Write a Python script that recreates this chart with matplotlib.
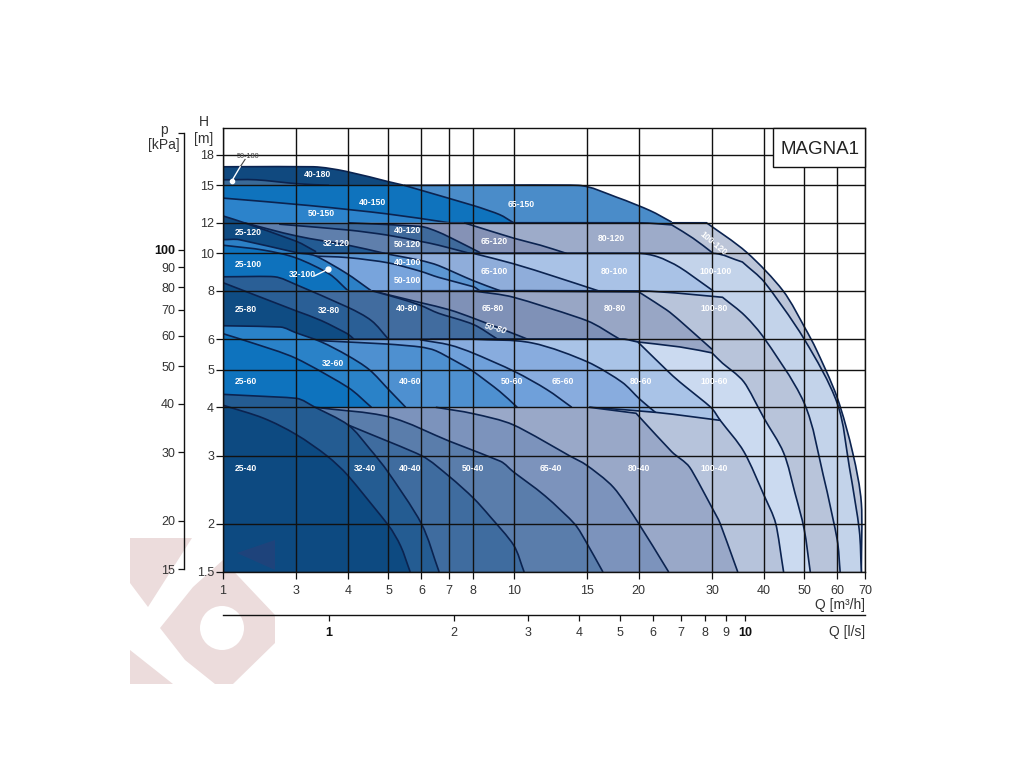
import numpy as np
import matplotlib
matplotlib.use("Agg")
import matplotlib.pyplot as plt
from matplotlib.patches import Polygon, Circle, Rectangle, PathPatch
from matplotlib.path import Path

plt.rcParams['font.family'] = ['Liberation Sans', 'DejaVu Sans']

# envelope curves, Q in m3/h and H in m
q_100_120 = [24, 29.1, 36.4, 44.4, 50.1, 53.5, 60, 65.4, 68.6, 68.6]
h_100_120 = [12.0, 12.0, 10.05, 8.02, 6.44, 5.63, 4.24, 3.05, 2.26, 1.5]
q_40_180 = [2, 3.3, 3.95, 4.97, 5.45]
h_40_180 = [16.75, 16.75, 16.3, 15.35, 15.0]
q_50_180 = [2, 2.4, 3, 3.6]
h_50_180 = [15.5, 15.5, 15.15, 15.0]
q_65_150 = [5.45, 14.3, 17.7, 21.3, 24]
h_65_150 = [15.0, 15.0, 13.97, 12.9, 12.05]
q_40_150 = [5.45, 8, 9.25, 10]
h_40_150 = [15.0, 13.3, 12.6, 12.0]
q_50_150 = [2, 3.22, 4.97, 7]
h_50_150 = [13.9, 13.3, 12.65, 12.0]

q_80_120 = [7, 20.1, 24, 27, 30.2]
h_80_120 = [12.0, 12.0, 11.85, 10.95, 10.0]
q_65_120 = [7.6, 10, 11.6, 13.4]
h_65_120 = [12.0, 10.95, 10.5, 10.0]
q_40_120 = [4.0, 5.95, 6.6, 7.4, 8.3]
h_40_120 = [12.0, 11.75, 11.35, 10.7, 10.05]
q_50_120 = [2.73, 3.98, 4.97, 5.95, 6.6, 7.85]
h_50_120 = [11.9, 11.5, 11.15, 10.75, 10.5, 10.0]
q_32_120 = [2.25, 3, 4, 4.9]
h_32_120 = [12.0, 11.1, 10.5, 10.0]
q_25_120 = [2, 2.25, 3, 3.35]
h_25_120 = [12.5, 12.0, 10.75, 10.1]

q_100_100 = [3, 30.2, 35.5, 40.2, 50, 60, 64.2, 67.8, 68.6]
h_100_100 = [10.0, 10.0, 9.5, 8.4, 6.0, 4.1, 2.8, 1.93, 1.5]
q_80_100 = [3, 19.9, 22.2, 25.1, 30.2]
h_80_100 = [10.0, 10.0, 9.8, 9.2, 8.0]
q_65_100 = [8, 10, 12.6, 16]
h_65_100 = [10.0, 9.4, 8.7, 8.0]
q_40_100 = [5, 5.95, 6.6, 8, 9.3]
h_40_100 = [9.95, 9.6, 9.3, 8.5, 8.0]
q_50_100 = [3.23, 4, 5, 5.95, 6.6, 8, 8.3]
h_50_100 = [9.85, 9.75, 9.45, 9.0, 8.67, 8.2, 8.0]
q_32_100 = [2, 2.19, 3, 3.34, 3.95, 4.55]
h_32_100 = [10.85, 10.85, 10.05, 9.85, 8.9, 8.0]
q_25_100 = [2, 2.5, 3, 3.6, 4]
h_25_100 = [10.5, 10.2, 9.73, 8.85, 8.0]

q_100_80 = [4, 20, 31.8, 36, 40.2, 50, 55.5, 60, 61]
h_100_80 = [8.0, 8.0, 7.7, 6.9, 6.0, 4.1, 2.68, 1.82, 1.5]
q_80_80 = [8.3, 20, 23.3, 25.1, 30]
h_80_80 = [8.0, 7.95, 7.15, 6.7, 5.65]
q_65_80 = [8, 10, 15, 18]
h_65_80 = [8.0, 7.7, 6.7, 6.0]
q_50_80 = [4.57, 6, 7, 8, 10.2, 10.8]
h_50_80 = [8.0, 7.45, 7.15, 6.8, 6.15, 6.0]
q_40_80 = [4.57, 5.3, 5.95, 6.6, 8, 9.15]
h_40_80 = [8.0, 7.65, 7.35, 7.0, 6.55, 6.0]
q_32_80 = [2, 2.66, 3, 4, 4.55, 5]
h_32_80 = [8.7, 8.7, 8.3, 7.25, 6.7, 6.0]
q_25_80 = [2, 3, 3.45, 3.98, 4.13]
h_25_80 = [8.4, 7.1, 6.7, 6.2, 6.0]

q_100_60 = [4, 18.3, 19.9, 25.1, 30, 31.8, 35.8, 40, 44.6, 47.5, 50, 51.7]
h_100_60 = [6.0, 6.0, 5.9, 5.73, 5.53, 5.2, 4.65, 3.75, 3.05, 2.4, 1.93, 1.5]
q_80_60 = [6.3, 18.3, 19.9, 23.3, 25.1, 29.8, 31.4]
h_80_60 = [6.0, 6.0, 5.9, 5.0, 4.65, 4.0, 3.7]
q_65_60 = [8, 11.05, 15, 18.2, 20.1, 22]
h_65_60 = [6.0, 5.87, 5.25, 4.65, 4.2, 3.87]
q_50_60 = [5.95, 7, 8, 10.05, 12, 13.8]
h_50_60 = [5.98, 5.8, 5.52, 4.95, 4.45, 4.0]
q_40_60 = [3.4, 4.95, 5.95, 6.5, 7.4, 8, 9.25, 10.2]
h_40_60 = [5.95, 5.83, 5.73, 5.6, 5.2, 4.95, 4.4, 4.0]
q_32_60 = [2, 2.75, 3, 3.45, 3.98, 4.5, 5, 5.5]
h_32_60 = [6.5, 6.45, 6.23, 5.9, 5.45, 5.0, 4.45, 4.0]
q_25_60 = [2, 2.35, 3, 4, 4.55]
h_25_60 = [6.2, 5.87, 5.35, 4.5, 4.0]

q_100_40 = [15.2, 22, 31.4, 35.8, 40, 42.7, 44.6]
h_100_40 = [4.0, 3.88, 3.7, 3.07, 2.37, 2.0, 1.5]
q_80_40 = [15.2, 19.7, 24, 26.5, 30, 31.4, 34.6]
h_80_40 = [4.0, 3.86, 3.07, 2.8, 2.2, 2.0, 1.5]
q_65_40 = [6.5, 8, 10, 13.6, 15, 17.4, 20, 23.6]
h_65_40 = [4.0, 3.85, 3.6, 3.0, 2.83, 2.48, 2.0, 1.5]
q_50_40 = [3.33, 5, 7, 9.3, 10, 11.9, 14, 15, 16.4]
h_50_40 = [4.0, 3.78, 3.27, 2.9, 2.72, 2.36, 2.0, 1.78, 1.5]
q_40_40 = [4, 6, 7, 8, 8.8, 10, 10.6]
h_40_40 = [3.6, 3.0, 2.65, 2.33, 2.08, 1.76, 1.5]
q_32_40 = [2, 3, 3.33, 4, 4.5, 5, 6, 6.62]
h_32_40 = [4.32, 4.22, 4.0, 3.6, 3.13, 2.71, 2.0, 1.5]
q_25_40 = [2, 2.5, 3, 3.55, 4, 5, 5.35, 5.64]
h_25_40 = [4.05, 3.75, 3.4, 3.0, 2.66, 1.98, 1.75, 1.5]

# painted back to front, each one is filled down to the bottom of the chart
layers = [
    (q_100_120, h_100_120, '#bcc5d8'), (q_40_180, h_40_180, '#10497f'), (q_50_180, h_50_180, '#3a6a98'),
    (q_65_150, h_65_150, '#4a8cc9'), (q_40_150, h_40_150, '#0f73bd'), (q_50_150, h_50_150, '#2c83cb'),
    (q_80_120, h_80_120, '#9dabc9'), (q_65_120, h_65_120, '#8592b6'), (q_40_120, h_40_120, '#3f6a9c'),
    (q_50_120, h_50_120, '#5f7fac'), (q_32_120, h_32_120, '#235b93'), (q_25_120, h_25_120, '#0f4b82'),
    (q_100_100, h_100_100, '#c3d3ea'), (q_80_100, h_80_100, '#a9c2e6'), (q_65_100, h_65_100, '#8fadda'),
    (q_40_100, h_40_100, '#5c96d2'), (q_50_100, h_50_100, '#78a4dc'), (q_32_100, h_32_100, '#2c80c6'),
    (q_25_100, h_25_100, '#0e72bd'),
    (q_100_80, h_100_80, '#b8c4da'), (q_80_80, h_80_80, '#98a6c5'), (q_65_80, h_65_80, '#7f91b7'),
    (q_50_80, h_50_80, '#5b7ca9'), (q_40_80, h_40_80, '#416c9f'), (q_32_80, h_32_80, '#2a5f96'),
    (q_25_80, h_25_80, '#0f4c83'),
    (q_100_60, h_100_60, '#cbdaf0'), (q_80_60, h_80_60, '#a9c3e7'), (q_65_60, h_65_60, '#88acde'),
    (q_50_60, h_50_60, '#6fa0da'), (q_40_60, h_40_60, '#4e90d0'), (q_32_60, h_32_60, '#2a82c8'),
    (q_25_60, h_25_60, '#0e73be'),
    (q_100_40, h_100_40, '#b6c3db'), (q_80_40, h_80_40, '#99a8c8'), (q_65_40, h_65_40, '#7c93bc'),
    (q_50_40, h_50_40, '#5a7dab'), (q_40_40, h_40_40, '#3f6c9f'), (q_32_40, h_32_40, '#245c92'),
    (q_25_40, h_25_40, '#0d4a81'),
]

label_names = ['40-180', '40-150', '50-150', '65-150', '25-120', '32-120', '40-120', '50-120', '65-120', '80-120',
               '25-100', '32-100', '40-100', '50-100', '65-100', '80-100', '100-100',
               '25-80', '32-80', '40-80', '65-80', '80-80', '100-80',
               '25-60', '32-60', '40-60', '50-60', '65-60', '80-60', '100-60',
               '25-40', '32-40', '40-40', '50-40', '65-40', '80-40', '100-40']
label_q = [3.38, 4.57, 3.44, 10.45, 2.3, 3.74, 5.55, 5.55, 9, 17.2,
           2.3, 3.1, 5.55, 5.55, 9, 17.5, 30.6,
           2.27, 3.6, 5.55, 8.9, 17.5, 30.4,
           2.27, 3.67, 5.65, 9.9, 13.1, 20.2, 30.4,
           2.27, 4.4, 5.65, 8, 12.3, 20, 30.4]
label_h = [16.0, 13.55, 12.7, 13.35, 11.3, 10.6, 11.45, 10.55, 10.75, 10.9,
           9.35, 8.8, 9.5, 8.5, 9, 9, 9,
           7.17, 7.1, 7.2, 7.2, 7.2, 7.2,
           4.65, 5.2, 4.65, 4.65, 4.65, 4.65, 4.65,
           2.78, 2.78, 2.78, 2.78, 2.78, 2.78, 2.78]

q_ticks = [2, 3, 4, 5, 6, 7, 8, 10, 15, 20, 30, 40, 50, 60, 70]
q_tick_labels = ['1', '3', '4', '5', '6', '7', '8', '10', '15', '20', '30', '40', '50', '60', '70']
h_ticks = [1.5, 2, 3, 4, 5, 6, 8, 10, 12, 15, 18]
h_tick_labels = ['1.5', '2', '3', '4', '5', '6', '8', '10', '12', '15', '18']
p_ticks = [15, 20, 30, 40, 50, 60, 70, 80, 90, 100, 200]
p_tick_labels = ['15', '20', '30', '40', '50', '60', '70', '80', '90', '100', '']
ls_ticks = [1, 2, 3, 4, 5, 6, 7, 8, 9, 10]

W, H = 1024, 768
line_col = '#0b2350'
ink = '#111111'
text_col = '#333333'


def curve_path(q, h):
    # bezier segments through the read points in log space, sharp bends stay corners
    pts = np.log10(np.column_stack([q, h]))
    segs = pts[1:] - pts[:-1]
    lens = np.linalg.norm(segs, axis=1)
    dirs = segs / lens[:, None]
    out_t = np.vstack([dirs, dirs[-1:]])
    in_t = np.vstack([dirs[:1], dirs])
    for i in range(1, len(pts) - 1):
        if dirs[i - 1] @ dirs[i] > 0.9:
            t = pts[i + 1] - pts[i - 1]
            t = t / np.linalg.norm(t)
            out_t[i] = t
            in_t[i] = t
    verts = [pts[0]]
    for i in range(len(lens)):
        d0 = min(lens[i], lens[max(i - 1, 0)]) / 3
        d1 = min(lens[i], lens[min(i + 1, len(lens) - 1)]) / 3
        verts += [pts[i] + out_t[i] * d0, pts[i + 1] - in_t[i + 1] * d1, pts[i + 1]]
    return 10 ** np.array(verts)


fig = plt.figure(figsize=(W / 100, H / 100), dpi=100, facecolor='white')

# pale logo behind the chart
bg = fig.add_axes([0, 0, 1, 1], zorder=-1)
bg.set_xlim(0, W)
bg.set_ylim(H, 0)
bg.axis('off')
pink = '#ecdcdc'
bg.add_patch(Polygon([(130, 538), (192, 538), (148, 607), (130, 583)], color=pink, lw=0))
bg.add_patch(Polygon([(223, 560), (275, 615), (275, 643), (233, 684), (215, 684), (185, 660), (160, 628), (193, 587)], color=pink, lw=0))
bg.add_patch(Polygon([(130, 650), (173, 684), (130, 684)], color=pink, lw=0))
bg.add_patch(Circle((222, 628), 22, color='white', lw=0))

ax = fig.add_axes([223 / W, 1 - 572 / H, 642 / W, 444 / H], facecolor='none')
ax.set_xscale('log')
ax.set_yscale('log')

for i, (q, h, col) in enumerate(layers):
    z = 1 + i * 0.02
    v = curve_path(q, h)
    codes = [Path.MOVETO] + [Path.CURVE4] * (len(v) - 1)
    closing = [(q[-1], 1.5), (2, 1.5), (2, h[0]), (q[0], h[0])]
    ax.add_patch(PathPatch(Path(np.vstack([v, closing]), codes + [Path.LINETO] * 4), facecolor=col, lw=0, zorder=z))
    ax.add_patch(PathPatch(Path(v, codes), fill=False, edgecolor=line_col, lw=1.2, zorder=z + 0.01))

ax.set_xlim(2, 70)
ax.set_ylim(1.5, 21.1)
ax.xaxis.set_minor_locator(plt.NullLocator())
ax.yaxis.set_minor_locator(plt.NullLocator())
ax.xaxis.set_minor_formatter(plt.NullFormatter())
ax.yaxis.set_minor_formatter(plt.NullFormatter())
ax.set_xticks(q_ticks, q_tick_labels)
ax.set_yticks(h_ticks, h_tick_labels)
ax.set_axisbelow(False)
ax.grid(True, which='major', color=ink, lw=1)
ax.tick_params(axis='both', which='major', length=5, width=0.9, color=ink, labelsize=9, labelcolor=text_col)
ax.tick_params(axis='x', pad=4)
ax.tick_params(axis='y', pad=1.5)
for s in ax.spines.values():
    s.set_color(ink)
    s.set_linewidth(1)
    s.set_zorder(3)

for name, q, h in zip(label_names, label_q, label_h):
    ax.text(q, h, name, color='white', fontsize=6.2, fontweight='bold', ha='center', va='center', zorder=5)
ax.text(30.2, 10.6, '100-120', color='white', fontsize=6.2, fontweight='bold', ha='center', va='center',
        rotation=-40, zorder=5)
ax.text(9.05, 6.4, '50-80', color='white', fontsize=6.5, style='italic', fontweight='bold', ha='center', va='center',
        rotation=-15, zorder=5)

# pointers for the two narrow pumps
ax.text(2.3, 17.8, '50-180', color='#444444', fontsize=5.2, ha='center', va='center', zorder=5)
ax.plot([2.26, 2.2], [17.5, 16.75], color='#444444', lw=0.8, zorder=5)
ax.plot([2.2, 2.1], [16.75, 15.4], color='white', lw=1, zorder=5)
ax.plot([2.1], [15.4], 'o', color='white', ms=3, zorder=5)
ax.plot([3.32, 3.58], [8.75, 9.1], color='white', lw=1, zorder=5)
ax.plot([3.58], [9.1], 'o', color='white', ms=3.5, zorder=5)

ax.add_patch(Rectangle(((773 - 223) / 642, (572 - 167) / 444), (865 - 773) / 642, 39 / 444, transform=ax.transAxes,
                       facecolor='white', edgecolor=ink, lw=1, zorder=6, clip_on=False))
ax.text((820 - 223) / 642, (572 - 149) / 444, 'MAGNA1', transform=ax.transAxes, fontsize=13.5, color='#222222',
        ha='center', va='center', zorder=7)

# pressure axis on the far left
pax = fig.add_axes([184 / W, 1 - 569 / H, 0.0001, 436 / H], facecolor='none')
pax.set_yscale('log')
pax.set_ylim(15, 200)
pax.set_xticks([])
pax.yaxis.set_minor_locator(plt.NullLocator())
pax.yaxis.set_minor_formatter(plt.NullFormatter())
pax.set_yticks(p_ticks, p_tick_labels)
pax.tick_params(axis='y', length=4.5, width=0.9, color=ink, labelsize=9, labelcolor=text_col, pad=2)
for lab in pax.get_yticklabels():
    if lab.get_text() == '100':
        lab.set_fontweight('bold')
        lab.set_color('#111111')
for k in ['top', 'right', 'bottom']:
    pax.spines[k].set_visible(False)
pax.spines['left'].set_color(ink)
pax.spines['left'].set_linewidth(1)

# flow axis in l/s under the chart
lax = fig.add_axes([223 / W, 1 - 615 / H, 642 / W, 0.0001], facecolor='none')
lax.set_xscale('log')
lax.set_xlim(2 / 3.6, 70 / 3.6)
lax.set_yticks([])
lax.xaxis.set_minor_locator(plt.NullLocator())
lax.xaxis.set_minor_formatter(plt.NullFormatter())
lax.set_xticks(ls_ticks, [str(v) for v in ls_ticks])
lax.tick_params(axis='x', length=4.5, width=0.9, color=ink, labelsize=9, labelcolor=text_col, pad=4)
for lab in lax.get_xticklabels():
    if lab.get_text() in ('1', '10'):
        lab.set_fontweight('bold')
        lab.set_color('#111111')
for k in ['top', 'right', 'left']:
    lax.spines[k].set_visible(False)
lax.spines['bottom'].set_color(ink)
lax.spines['bottom'].set_linewidth(1)

fig.text(204 / W, 1 - 122 / H, 'H', fontsize=10, color=text_col, ha='center', va='center')
fig.text(204 / W, 1 - 139 / H, '[m]', fontsize=10, color=text_col, ha='center', va='center')
fig.text(164 / W, 1 - 130 / H, 'p', fontsize=10, color=text_col, ha='center', va='center')
fig.text(164 / W, 1 - 145 / H, '[kPa]', fontsize=10, color=text_col, ha='center', va='center')
fig.text(865 / W, 1 - 605 / H, 'Q [m³/h]', fontsize=10, color=text_col, ha='right', va='center')
fig.text(865 / W, 1 - 632 / H, 'Q [l/s]', fontsize=10, color=text_col, ha='right', va='center')

# faint corner of the logo showing through the dark area
fig.add_artist(Polygon([(237, 553), (275, 540), (275, 570)], transform=bg.transData, color='#2b3f78', alpha=0.6, lw=0))

fig.savefig('out.png', dpi=100)
